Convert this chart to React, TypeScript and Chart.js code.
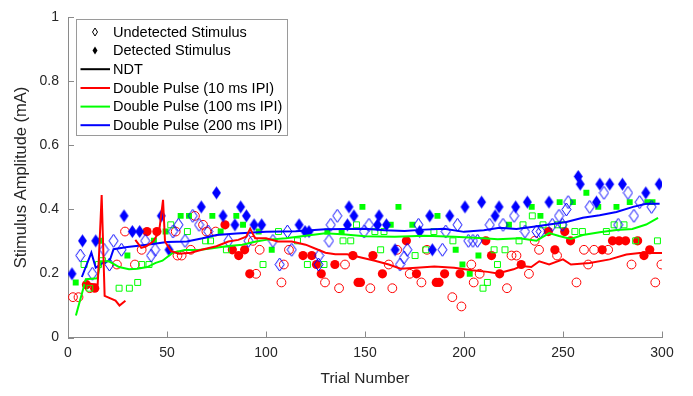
import React, { useEffect, useRef } from 'react';
import { Chart, registerables } from 'chart.js';
Chart.register(...registerables);

type P = [number, number | null];

const xTicks = [0, 50, 100, 150, 200, 250, 300];
const yTicks = [0, 0.2, 0.4, 0.6, 0.8, 1];
const xTitle = 'Trial Number';
const yTitle = 'Stimulus Amplitude (mA)';
const legendLabels = [
  'Undetected Stimulus',
  'Detected Stimulus',
  'NDT',
  'Double Pulse (10 ms IPI)',
  'Double Pulse (100 ms IPI)',
  'Double Pulse (200 ms IPI)',
];

// 10 ms IPI (red circles)
const ipi10Undetected: P[] = [
  [2.5, 0.126], [5.3, 0.126], [11, 0.154], [24.7, 0.228], [28.8, 0.331], [33.8, 0.228], [37.2, 0.274],
  [54.4, 0.331], [55.3, 0.256], [57.4, 0.256], [62, 0.274], [64.1, 0.38], [68.2, 0.352], [69.9, 0.331],
  [74.6, 0.331], [93.4, 0.302], [95, 0.199], [96.8, 0.274], [107.8, 0.172], [109, 0.228], [111.6, 0.274],
  [129.8, 0.172], [136.9, 0.154], [139.9, 0.228], [152.7, 0.154], [162, 0.228], [163.8, 0.154],
  [166.2, 0.274], [172.6, 0.199], [178.5, 0.172], [181.3, 0.274], [194.1, 0.126], [198.7, 0.097],
  [203.7, 0.228], [204.9, 0.172], [207.9, 0.199], [221.7, 0.154], [224, 0.256], [226.5, 0.256],
  [232.8, 0.199], [235.7, 0.302], [237.9, 0.274], [247, 0.256], [256.8, 0.172], [260.6, 0.274],
  [262.7, 0.228], [265.7, 0.274], [272.8, 0.274], [284.6, 0.228], [296.6, 0.172], [299.7, 0.228],
];
const ipi10Detected: P[] = [
  [9.3, 0.165], [13.5, 0.154], [39.9, 0.331], [44.9, 0.331], [79.3, 0.352], [83, 0.274], [86.2, 0.256],
  [89.2, 0.274], [91.8, 0.199], [118.7, 0.256], [123.1, 0.256], [125.5, 0.228], [127.9, 0.199],
  [134.8, 0.228], [143.9, 0.256], [146.5, 0.172], [147.7, 0.172], [154, 0.256], [158.8, 0.199],
  [170.9, 0.302], [176, 0.199], [186, 0.172], [187.4, 0.172], [190.2, 0.199], [198, 0.199], [211, 0.302],
  [213.9, 0.256], [218, 0.199], [228.9, 0.228], [242.6, 0.331], [245.9, 0.274], [250.9, 0.331],
  [253.8, 0.302], [269.8, 0.274], [275, 0.302], [278.3, 0.302], [281.6, 0.302], [287.7, 0.302],
  [290.9, 0.256], [293.8, 0.274],
];
// 100 ms IPI (green squares)
const ipi100Undetected: P[] = [
  [8.1, 0.228], [11, 0.154], [15.4, 0.228], [17.4, 0.24], [25.8, 0.154], [31, 0.154], [35.2, 0.172],
  [37.2, 0.228], [40.9, 0.228], [51.9, 0.352], [60.3, 0.331], [69.5, 0.302], [72, 0.302], [80, 0.274],
  [98.5, 0.228], [106.3, 0.331], [115.9, 0.302], [120.9, 0.228], [129.3, 0.228], [138.9, 0.302],
  [142.8, 0.302], [145.7, 0.352], [155, 0.331], [157.9, 0.274], [159.6, 0.331], [175.3, 0.256],
  [180.7, 0.274], [184.8, 0.331], [194.4, 0.302], [209.6, 0.154], [211.8, 0.172], [215.2, 0.274],
  [216.9, 0.228], [220.7, 0.274], [227.8, 0.302], [229.8, 0.352], [234.5, 0.38], [239.9, 0.352],
  [247.2, 0.352], [250, 0.352], [256, 0.331], [259.8, 0.331], [271.9, 0.331], [275.8, 0.352],
  [280.8, 0.352], [286.7, 0.302], [297.7, 0.302],
];
const ipi100Detected: P[] = [
  [3.9, 0.172], [16.4, 0.302], [30, 0.256], [43.4, 0.302], [49.3, 0.331], [56.9, 0.38], [61.1, 0.38],
  [72.9, 0.38], [77.1, 0.331], [85, 0.38], [88.4, 0.352], [96.3, 0.331], [102.9, 0.274], [131, 0.331],
  [138.2, 0.331], [148.7, 0.408], [163, 0.352], [166.9, 0.408], [173.9, 0.352], [186.6, 0.38],
  [195.8, 0.274], [199.2, 0.228], [202.9, 0.199], [207.3, 0.256], [222.7, 0.352], [234.2, 0.408],
  [238.6, 0.38], [248.3, 0.423], [255, 0.423], [261.8, 0.452], [267.8, 0.408], [277, 0.408],
  [283.7, 0.423], [292.6, 0.423], [295.2, 0.423],
];
// 200 ms IPI (blue diamonds)
const ipi200Undetected: P[] = [
  [6.2, 0.256], [12.3, 0.199], [18.2, 0.274], [20.9, 0.228], [23, 0.302], [27, 0.274], [39, 0.302],
  [42, 0.256], [44, 0.274], [53, 0.331], [55.8, 0.352], [59.1, 0.302], [63, 0.38], [66.2, 0.352],
  [70.8, 0.331], [81, 0.302], [91.1, 0.302], [103.5, 0.302], [106.9, 0.228], [110.8, 0.331], [113, 0.274],
  [126.5, 0.228], [126.8, 0.256], [131.8, 0.302], [132.7, 0.352], [136, 0.38], [149.5, 0.331], [152, 0.352],
  [167.7, 0.228], [169.7, 0.25], [171.4, 0.274], [177, 0.352], [189.1, 0.274], [190.8, 0.331],
  [196.7, 0.352], [202.2, 0.302], [204.5, 0.302], [206.8, 0.302], [213, 0.352], [219.7, 0.352],
  [225.3, 0.38], [230.8, 0.331], [236.6, 0.331], [238.7, 0.331], [244.6, 0.352], [248, 0.38],
  [249.7, 0.352], [251.7, 0.4], [252.6, 0.423], [263.5, 0.408], [270.7, 0.452], [277.9, 0.352],
  [282.8, 0.452], [285.8, 0.38], [288.7, 0.423], [294.7, 0.408],
];
const ipi200Detected: P[] = [
  [2, 0.199], [7.3, 0.302], [14, 0.302], [28.3, 0.38], [32.5, 0.331], [36.2, 0.331], [47.1, 0.38],
  [51, 0.274], [67.3, 0.408], [75, 0.452], [78.3, 0.38], [84.3, 0.352], [87.2, 0.408], [90.1, 0.38],
  [94, 0.352], [97.8, 0.352], [116.7, 0.352], [119.7, 0.331], [121.7, 0.331], [141.1, 0.352],
  [141.9, 0.408], [144.4, 0.38], [156.3, 0.352], [157.1, 0.38], [160.8, 0.352], [165.2, 0.274],
  [177.6, 0.331], [182.7, 0.38], [184, 0.274], [192.8, 0.38], [200.5, 0.408], [208.9, 0.423],
  [215.7, 0.38], [217.7, 0.408], [226.1, 0.408], [232, 0.423], [242.9, 0.423], [257.7, 0.503],
  [258.7, 0.479], [266.9, 0.423], [268.6, 0.479], [273.6, 0.479], [280, 0.479], [291.8, 0.452],
  [298.6, 0.479],
];

// threshold tracks
const ipi10Track: P[] = [
  [8, 0.17], [15, 0.165], [17, 0.445], [18.5, 0.13], [24, 0.115], [26, 0.1], [29, 0.115], [31, null],
  [34, 0.305], [37, 0.28], [39.5, 0.285], [43, 0.3], [46, 0.33], [48, 0.43], [49, 0.3], [52, 0.27],
  [56, 0.262], [62, 0.265], [68, 0.275], [75, 0.285], [81, 0.3], [86, 0.305], [90, 0.315], [92, 0.34],
  [94.5, 0.31], [100, 0.31], [106, 0.3], [113, 0.3], [120, 0.29], [126, 0.275], [130, 0.265],
  [135, 0.26], [141, 0.26], [148, 0.25], [155, 0.24], [162, 0.228], [168, 0.215], [176, 0.218],
  [185, 0.222], [195, 0.218], [204, 0.21], [212, 0.205], [217, 0.2], [225, 0.213], [229, 0.223],
  [234, 0.22], [238, 0.238], [243, 0.228], [250, 0.244], [254, 0.228], [263.5, 0.233], [273.6, 0.244],
  [282, 0.259], [288.7, 0.264], [300, 0.264],
];
const ipi100Track: P[] = [
  [4, 0.069], [9, 0.182], [14.8, 0.185], [16.5, 0.238], [20.7, 0.238], [25.8, 0.22], [30.8, 0.213],
  [35, 0.215], [40, 0.22], [44.3, 0.233], [47.7, 0.24], [53, 0.265], [59, 0.273], [66, 0.273],
  [72, 0.278], [80, 0.285], [88, 0.29], [95, 0.3], [100, 0.305], [110, 0.31], [120, 0.318],
  [130, 0.326], [140, 0.322], [150, 0.316], [165, 0.315], [180, 0.318], [195, 0.315], [210, 0.31],
  [217, 0.307], [228, 0.31], [236.6, 0.302], [243, 0.326], [248, 0.317], [254, 0.308], [260, 0.32],
  [268.5, 0.329], [277, 0.336], [285, 0.339], [292, 0.353], [298, 0.374],
];
const ipi200Track: P[] = [
  [7, 0.189], [11.8, 0.265], [14, 0.218], [18, 0.235], [21, 0.239], [23, 0.276], [30, 0.283],
  [40, 0.29], [50, 0.298], [60, 0.3], [68, 0.31], [75, 0.32], [85, 0.325], [100, 0.33], [115, 0.332],
  [130, 0.338], [150, 0.34], [160, 0.335], [170, 0.333], [180, 0.337], [190, 0.34], [200, 0.33],
  [210, 0.335], [218, 0.343], [226.5, 0.339], [235, 0.346], [243, 0.353], [251.7, 0.361], [260, 0.374],
  [268.5, 0.382], [277, 0.392], [285.4, 0.408], [292, 0.418], [298.8, 0.418],
];

const RED = '#ff0000';
const GREEN = '#00ff00';
const BLUE = '#0000ff';
const AXIS = '#8a8a8a';
const TEXT = '#262626';
const FONT = "'Liberation Sans', Arial, Helvetica, sans-serif";

const xy = (a: P[]) => a.map(([x, y]) => ({ x, y }));

function makeDiamond(w: number, h: number, color: string, filled: boolean) {
  const c = document.createElement('canvas');
  c.width = w + 2;
  c.height = h + 2;
  const g = c.getContext('2d')!;
  const cx = c.width / 2;
  const cy = c.height / 2;
  g.beginPath();
  g.moveTo(cx, cy - h / 2);
  g.lineTo(cx + w / 2, cy);
  g.lineTo(cx, cy + h / 2);
  g.lineTo(cx - w / 2, cy);
  g.closePath();
  if (filled) {
    g.fillStyle = color;
    g.fill();
  } else {
    g.strokeStyle = color;
    g.lineWidth = 1;
    g.stroke();
  }
  return c;
}

const inwardTicks = {
  id: 'inwardTicks',
  beforeDatasetsDraw(chart: any) {
    const { ctx, chartArea: a, scales } = chart;
    ctx.save();
    ctx.strokeStyle = AXIS;
    ctx.lineWidth = 1;
    ctx.beginPath();
    for (const t of xTicks) {
      const px = Math.round(scales.x.getPixelForValue(t)) + 0.5;
      ctx.moveTo(px, a.bottom);
      ctx.lineTo(px, a.bottom - 6);
    }
    for (const t of yTicks) {
      const py = Math.round(scales.y.getPixelForValue(t)) + 0.5;
      ctx.moveTo(a.left, py);
      ctx.lineTo(a.left + 6, py);
    }
    ctx.stroke();
    ctx.restore();
  },
};

const boxLegend = {
  id: 'boxLegend',
  afterDraw(chart: any) {
    const ctx: CanvasRenderingContext2D = chart.ctx;
    ctx.save();
    ctx.fillStyle = '#ffffff';
    ctx.fillRect(77, 20, 210, 115);
    ctx.strokeStyle = '#9a9a9a';
    ctx.lineWidth = 1;
    ctx.strokeRect(76.5, 19.5, 211, 116);
    const rows = [32, 50.5, 69.2, 88, 106.6, 125.2];
    const lineColors = ['', '', '#000000', RED, GREEN, BLUE];
    rows.forEach((ry, i) => {
      if (i < 2) {
        ctx.beginPath();
        ctx.moveTo(95, ry - 4);
        ctx.lineTo(97.5, ry);
        ctx.lineTo(95, ry + 4);
        ctx.lineTo(92.5, ry);
        ctx.closePath();
        if (i === 0) {
          ctx.strokeStyle = '#000';
          ctx.lineWidth = 1;
          ctx.stroke();
        } else {
          ctx.fillStyle = '#000';
          ctx.fill();
        }
      } else {
        ctx.beginPath();
        ctx.strokeStyle = lineColors[i];
        ctx.lineWidth = 2;
        ctx.moveTo(80.5, ry);
        ctx.lineTo(110, ry);
        ctx.stroke();
      }
      ctx.fillStyle = '#000';
      ctx.font = `14.5px ${FONT}`;
      ctx.textAlign = 'left';
      ctx.textBaseline = 'middle';
      ctx.fillText(legendLabels[i], 113, ry + 0.5);
    });
    ctx.restore();
  },
};

export default function App() {
  const ref = useRef<HTMLCanvasElement>(null);
  useEffect(() => {
    if (!ref.current) return;
    const dOpen = makeDiamond(9, 13, BLUE, false);
    const dFill = makeDiamond(9, 13, BLUE, true);
    const lineDs = (data: P[], color: string) => ({
      type: 'line' as const,
      data: xy(data),
      borderColor: color,
      borderWidth: 2,
      pointRadius: 0,
      showLine: true,
      spanGaps: false,
      tension: 0,
      fill: false,
    });
    const chart = new Chart(ref.current, {
      type: 'scatter',
      data: {
        datasets: [
          lineDs(ipi10Track, RED),
          lineDs(ipi100Track, GREEN),
          lineDs(ipi200Track, BLUE),
          {
            data: xy(ipi200Detected),
            pointStyle: dFill as any,
            pointRadius: 5,
            borderColor: BLUE,
            backgroundColor: BLUE,
          },
          {
            data: xy(ipi200Undetected),
            pointStyle: dOpen as any,
            pointRadius: 5,
            borderColor: BLUE,
            backgroundColor: 'rgba(0,0,0,0)',
          },
          {
            data: xy(ipi100Detected),
            pointStyle: 'rect',
            pointRadius: 4.2,
            borderWidth: 0,
            borderColor: GREEN,
            backgroundColor: GREEN,
          },
          {
            data: xy(ipi100Undetected),
            pointStyle: 'rect',
            pointRadius: 4.2,
            borderWidth: 1,
            borderColor: GREEN,
            backgroundColor: 'rgba(0,0,0,0)',
          },
          {
            data: xy(ipi10Detected),
            pointStyle: 'circle',
            pointRadius: 4.6,
            borderWidth: 0,
            borderColor: RED,
            backgroundColor: RED,
          },
          {
            data: xy(ipi10Undetected),
            pointStyle: 'circle',
            pointRadius: 4.4,
            borderWidth: 1,
            borderColor: RED,
            backgroundColor: 'rgba(0,0,0,0)',
          },
        ] as any,
      },
      options: {
        animation: false,
        responsive: false,
        maintainAspectRatio: false,
        layout: { padding: { left: 0, top: 12.5, right: 31, bottom: 0 } },
        plugins: { legend: { display: false }, tooltip: { enabled: false } },
        scales: {
          x: {
            type: 'linear',
            min: 0,
            max: 300,
            afterFit: (s: any) => {
              s.height = 58.5;
            },
            afterBuildTicks: (s: any) => {
              s.ticks = xTicks.map((v) => ({ value: v }));
            },
            grid: { display: false, drawTicks: false },
            border: { display: true, color: AXIS, width: 1 },
            ticks: {
              padding: 7,
              color: TEXT,
              font: { family: FONT, size: 14 },
              maxRotation: 0,
              callback: (v: any) => String(v),
            },
            title: {
              display: true,
              text: xTitle,
              color: TEXT,
              font: { family: FONT, size: 15.5 },
              padding: { top: 0, bottom: 8 },
            },
          },
          y: {
            type: 'linear',
            min: 0,
            max: 1,
            afterFit: (s: any) => {
              s.width = 68;
            },
            afterBuildTicks: (s: any) => {
              s.ticks = yTicks.map((v) => ({ value: v }));
            },
            grid: { display: false, drawTicks: false },
            border: { display: true, color: AXIS, width: 1 },
            ticks: {
              padding: 9,
              color: TEXT,
              font: { family: FONT, size: 14 },
              callback: (v: any) => String(Math.round(Number(v) * 10) / 10),
            },
            title: {
              display: true,
              text: yTitle,
              color: TEXT,
              font: { family: FONT, size: 16.5 },
              padding: { top: 12, bottom: 0 },
            },
          },
        },
      },
      plugins: [inwardTicks, boxLegend],
    });
    return () => chart.destroy();
  }, []);
  return (
    <div style={{ position: 'fixed', left: 0, top: 0, width: 693, height: 396, background: '#fff' }}>
      <canvas ref={ref} width={693} height={396} style={{ width: 693, height: 396, display: 'block' }} />
    </div>
  );
}
